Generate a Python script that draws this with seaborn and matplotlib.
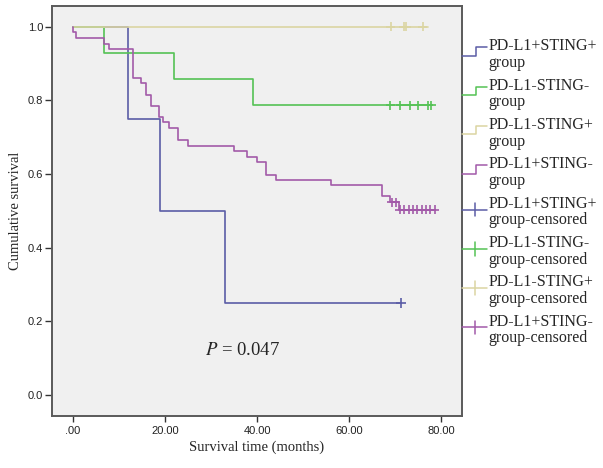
import numpy as np
import pandas as pd
import matplotlib
matplotlib.use('Agg')
import matplotlib.pyplot as plt
import seaborn as sns
from matplotlib.lines import Line2D
from matplotlib.legend_handler import HandlerBase

groups = ['PD-L1+STING+', 'PD-L1-STING-', 'PD-L1-STING+', 'PD-L1+STING-']
colors = ['#5b5da6', '#55c255', '#dbd5a2', '#a25aa9']

# Kaplan-Meier steps: time of each drop and survival after it
pp_time = [0, 12.0, 19.0, 33.1, 71.2]
pp_surv = [1.0, 0.75, 0.50, 0.25, 0.25]
nn_time = [0, 6.9, 22.0, 39.1, 77.8]
nn_surv = [1.0, 0.929, 0.857, 0.786, 0.786]
np_time = [0, 77.0]
np_surv = [1.0, 1.0]
pn_time = [0, 0.1, 0.7, 6.9, 7.9, 13.0, 14.8, 15.9, 17.0, 18.8, 19.7, 20.8, 22.8,
           25.0, 34.9, 37.9, 39.9, 42.0, 44.1, 56.0, 67.1, 68.9, 70.7, 78.6]
pn_surv = [1.0, 0.985, 0.969, 0.954, 0.939, 0.861, 0.847, 0.815, 0.784, 0.755, 0.740,
           0.725, 0.693, 0.677, 0.662, 0.646, 0.632, 0.598, 0.584, 0.569, 0.539,
           0.523, 0.503, 0.503]

# censored observations
pp_cens_time = [71.2]
pp_cens_surv = [0.25]
nn_cens_time = [68.9, 71.1, 73.1, 75.0, 77.1, 77.8]
nn_cens_surv = [0.786, 0.786, 0.786, 0.786, 0.786, 0.786]
np_cens_time = [69.0, 71.8, 72.4, 75.9]
np_cens_surv = [1.0, 1.0, 1.0, 1.0]
pn_cens_time = [69.3, 70.1, 71.0, 71.9, 72.9, 73.8, 74.8, 75.7, 76.6, 77.6, 78.5]
pn_cens_surv = [0.523, 0.523, 0.503, 0.503, 0.503, 0.503, 0.503, 0.503, 0.503, 0.503, 0.503]

x_ticks = [0, 20, 40, 60, 80]
x_ticklabels = ['.00', '20.00', '40.00', '60.00', '80.00']
y_ticks = [0.0, 0.2, 0.4, 0.6, 0.8, 1.0]
p_text = '$P$ = 0.047'

curves = pd.concat([
    pd.DataFrame({'group': g, 'time': t, 'surv': s})
    for g, t, s in zip(groups, [pp_time, nn_time, np_time, pn_time],
                       [pp_surv, nn_surv, np_surv, pn_surv])
], ignore_index=True)
cens = pd.concat([
    pd.DataFrame({'group': g, 'time': t, 'surv': s})
    for g, t, s in zip(groups, [pp_cens_time, nn_cens_time, np_cens_time, pn_cens_time],
                       [pp_cens_surv, nn_cens_surv, np_cens_surv, pn_cens_surv])
], ignore_index=True)

sns.set_style('ticks')
plt.rcParams['mathtext.fontset'] = 'stix'
serif = 'Liberation Serif'
sansf = 'Liberation Sans'
palette = dict(zip(groups, colors))

fig = plt.figure(figsize=(6.03, 4.68), dpi=100)
ax = fig.add_axes([0.0857, 0.111, 0.68, 0.877])
ax.set_facecolor('#f0f0f0')

sns.lineplot(data=curves, x='time', y='surv', hue='group', palette=palette,
             drawstyle='steps-post', estimator=None, sort=False, lw=1.2,
             legend=False, ax=ax)
sns.scatterplot(data=cens, x='time', y='surv', hue='group', palette=palette,
                marker='+', s=45, linewidth=1.2, legend=False, ax=ax)

ax.set_xlim(-4.56, 84.4)
ax.set_ylim(-0.057, 1.057)
ax.set_xticks(x_ticks)
ax.set_xticklabels(x_ticklabels, fontsize=8, family=sansf, color='#222222')
ax.set_yticks(y_ticks)
ax.set_yticklabels([f'{v:.1f}' for v in y_ticks], fontsize=8, family=sansf, color='#222222')
ax.tick_params(axis='y', length=5, pad=1, width=1, color='#333333')
ax.tick_params(axis='x', length=4.5, pad=3, width=1, color='#333333')
for sp in ax.spines.values():
    sp.set_color('#5a5a5a')
    sp.set_linewidth(1.4)

ax.set_xlabel('Survival time (months)', family=serif, fontsize=10.5, labelpad=3)
ax.set_ylabel('Cumulative survival', family=serif, fontsize=10.5, labelpad=4)
ax.text(36.8, 0.122, p_text, family=serif, fontsize=13.5, ha='center', va='center')


class StepHandler(HandlerBase):
    def create_artists(self, legend, orig_handle, xdescent, ydescent,
                       width, height, fontsize, trans):
        x0, x1 = -xdescent, -xdescent + width
        xm = x0 + 0.55 * width
        yl, yh = -ydescent + 0.45 * height, -ydescent + 1.2 * height
        line = Line2D([x0, xm, xm, x1], [yl, yl, yh, yh],
                      color=orig_handle.get_color(), lw=1.1, transform=trans)
        return [line]


class CensorHandler(HandlerBase):
    def create_artists(self, legend, orig_handle, xdescent, ydescent,
                       width, height, fontsize, trans):
        x0, x1 = -xdescent, -xdescent + width
        xm = x0 + 0.5 * width
        yc = -ydescent + 0.75 * height
        line = Line2D([x0, x1], [yc, yc], color=orig_handle.get_color(),
                      lw=1.1, transform=trans)
        tick = Line2D([xm, xm], [yc - 0.6 * height, yc + 0.6 * height],
                      color=orig_handle.get_color(), lw=1.1, transform=trans)
        return [line, tick]


step_handles = [Line2D([], [], color=c) for c in colors]
cens_handles = [Line2D([], [], color=c, marker='+') for c in colors]
labels = [g + '\ngroup' for g in groups] + [g + '\ngroup-censored' for g in groups]
handler_map = {h: StepHandler() for h in step_handles}
handler_map.update({h: CensorHandler() for h in cens_handles})

leg = fig.legend(step_handles + cens_handles, labels, handler_map=handler_map,
                 loc='upper left', bbox_to_anchor=(0.766, 0.918), frameon=False,
                 handlelength=1.6, handletextpad=0.08, labelspacing=0.42,
                 borderaxespad=0, borderpad=0,
                 prop={'family': serif, 'size': 11.5})
for t in leg.get_texts():
    t.set_linespacing(1.05)

fig.savefig('out.png', dpi=100)
